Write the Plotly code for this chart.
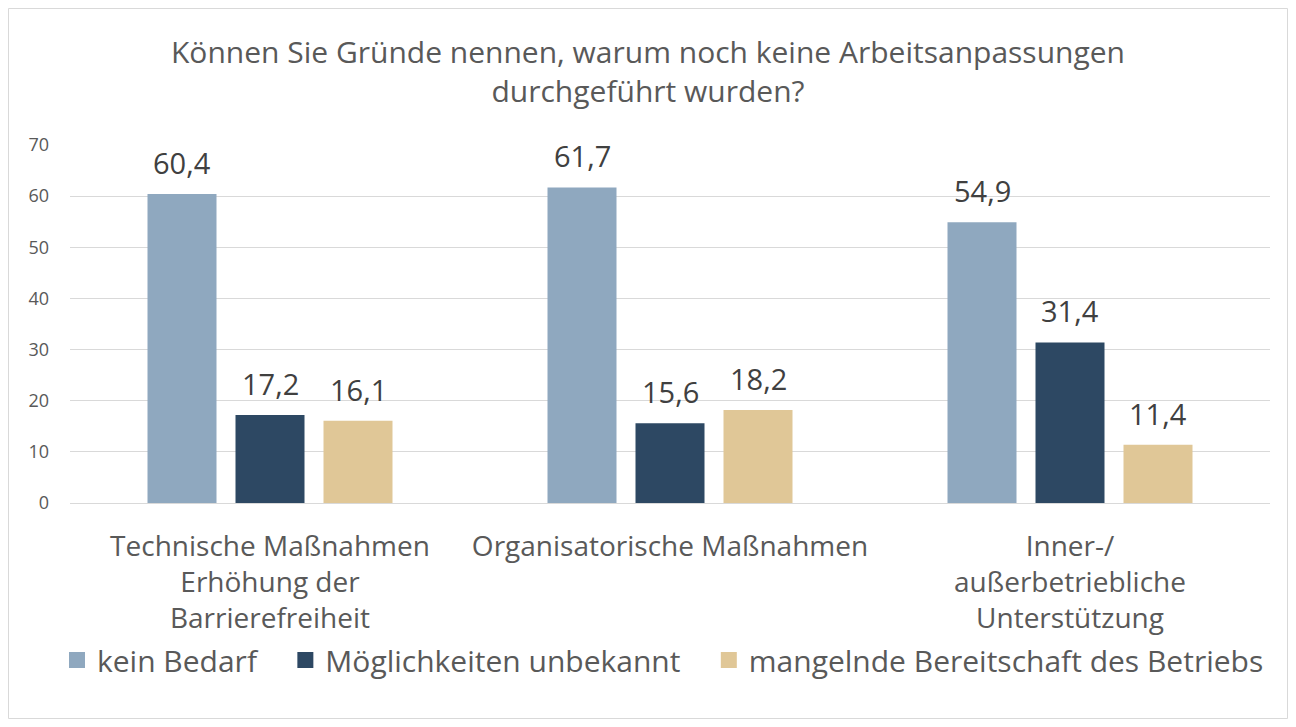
import plotly.graph_objects as go

categories = [
    "Technische Maßnahmen<br>Erhöhung der<br>Barrierefreiheit",
    "Organisatorische Maßnahmen",
    "Inner-/<br>außerbetriebliche<br>Unterstützung",
]
series_names = ["kein Bedarf", "Möglichkeiten unbekannt", "mangelnde Bereitschaft des Betriebs"]
kein_bedarf = [60.4, 61.7, 54.9]
moeglichkeiten = [17.2, 15.6, 31.4]
mangelnde = [16.1, 18.2, 11.4]
colors = ["#8FA8BF", "#2D4863", "#E0C797"]
title_text = "Können Sie Gründe nennen, warum noch keine Arbeitsanpassungen<br>durchgeführt wurden?"

OFF = 8  # page body margin
W, H = 1280, 711
ml, mr, mt, mb = 70 - OFF, W - (1270 - OFF), 145 - OFF, H - (503 - OFF)
pw, ph = W - ml - mr, H - mt - mb
BARGAP = 0.34


def px_y(y):
    return (H - mb - (y - OFF)) / ph


all_series = [kein_bedarf, moeglichkeiten, mangelnde]
fig = go.Figure()
for name, vals, col in zip(series_names, all_series, colors):
    fig.add_trace(go.Bar(
        x=categories, y=vals, name=name, marker=dict(color=col, line=dict(width=0)),
        showlegend=False,
    ))
# legend entries with larger square symbols
for k, (name, col) in enumerate(zip(series_names, colors)):
    pad = "\u00a0\u00a0\u00a0" if k < len(series_names) - 1 else ""
    fig.add_trace(go.Scatter(
        x=[None], y=[None], mode="markers", name=name + pad,
        marker=dict(symbol="square", size=20, color=col), showlegend=True,
    ))

# value labels
slot = (1 - BARGAP) / len(all_series)
annotations = []
for i, vals in enumerate(all_series):
    for j, v in enumerate(vals):
        annotations.append(dict(
            x=j + (i - (len(all_series) - 1) / 2) * slot, y=v, xref="x", yref="y",
            text=f"{v:.1f}".replace(".", ","), showarrow=False,
            yanchor="bottom", xanchor="center", yshift=10,
            font=dict(size=29, color="#404040", family="Open Sans"),
        ))

fig.update_layout(
    width=W, height=H,
    margin=dict(l=ml, r=mr, t=mt, b=mb),
    paper_bgcolor="white", plot_bgcolor="white",
    font=dict(family="Open Sans", color="#595959"),
    barmode="group", bargap=BARGAP, bargroupgap=0.216,
    title=dict(text=title_text, x=0.5, xanchor="center", y=1 - (63 - OFF) / H, yanchor="middle",
               font=dict(size=30, color="#595959", family="Open Sans")),
    legend=dict(orientation="h", x=-13 / pw, xanchor="left", y=px_y(660), yanchor="middle",
                font=dict(size=30, color="#595959"), traceorder="normal",
                itemwidth=30, itemsizing="trace", bgcolor="rgba(0,0,0,0)"),
    xaxis=dict(tickfont=dict(size=28, color="#595959"), showline=True, linecolor="#D9D9D9",
               linewidth=1, ticks="", showgrid=False, ticklabelstandoff=18),
    yaxis=dict(range=[0, 70], dtick=10, tickfont=dict(size=18, color="#595959"),
               gridcolor="#D9D9D9", gridwidth=1, zeroline=False, showline=False, ticks="",
               ticklabelstandoff=20),
    annotations=annotations,
    shapes=[dict(type="rect", xref="paper", yref="paper",
                 x0=(0.5 - ml) / pw, x1=(W - 0.5 - ml) / pw,
                 y0=(-mb + 0.5) / ph, y1=(H - mb - 0.5) / ph,
                 line=dict(color="#D9D9D9", width=1), fillcolor="rgba(0,0,0,0)", layer="below")],
)

fig.write_html("out.html")
